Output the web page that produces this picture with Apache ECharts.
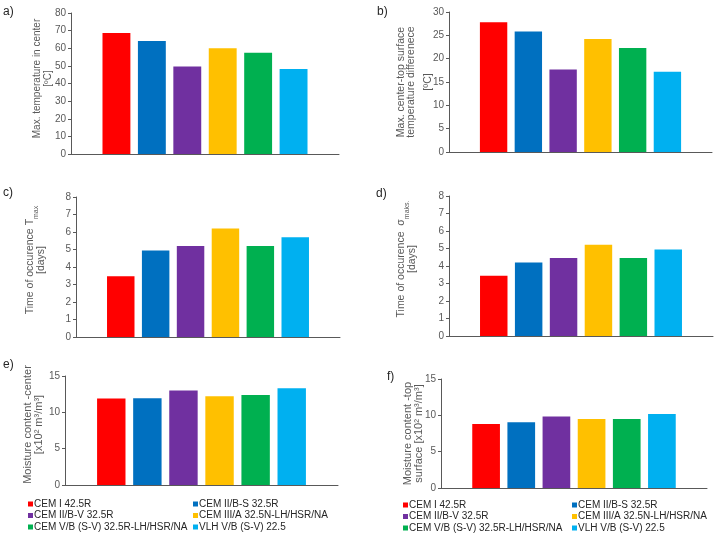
<!DOCTYPE html>
<html><head><meta charset="utf-8">
<script src="https://cdn.jsdelivr.net/npm/echarts@6/dist/echarts.min.js"></script>
<style>html,body{margin:0;padding:0;background:#fff}#c{width:720px;height:540px}</style>
</head><body><div id="c"></div><script>
// ---- data ----
const seriesNames = ['CEM I 42.5R', 'CEM II/B-S 32.5R', 'CEM II/B-V 32.5R', 'CEM III/A 32.5N-LH/HSR/NA', 'CEM V/B (S-V) 32.5R-LH/HSR/NA', 'VLH V/B (S-V) 22.5'];
const maxTempCenter = [68.6, 64.1, 49.7, 60.0, 57.5, 48.2];
const maxTempDiff = [27.8, 25.8, 17.7, 24.2, 22.3, 17.2];
const timeTmax = [3.47, 4.95, 5.2, 6.2, 5.2, 5.7];
const timeSigma = [3.45, 4.2, 4.46, 5.22, 4.46, 4.95];
const moistureCenter = [11.9, 11.95, 13.0, 12.2, 12.4, 13.3];
const moistureTop = [8.8, 9.05, 9.85, 9.5, 9.5, 10.2];
const yMax = [80, 30, 8, 8, 15, 15];
const yInterval = [10, 5, 1, 1, 5, 5];
const panelLabels = ['a)', 'b)', 'c)', 'd)', 'e)', 'f)'];
const axisTitles = [
  '{t|Max. temperature in center}\n{t|[ºC]}',
  '{t|Max. center-top surface}\n{t|temperature differenece}\n{u|[ºC]}',
  '{t|Time of occurence T}{s|max}\n{t|[days]}',
  '{t|Time of occurence  σ}{s|maks.}\n{t|[days]}',
  '{t|Moisture content -center}\n{t|[x10² m³/m³]}',
  '{t|Moisture content -top}\n{t|surface [x10² m³/m³]}'
];
const panelData = [maxTempCenter, maxTempDiff, timeTmax, timeSigma, moistureCenter, moistureTop];

// ---- styling / layout ----
const colors = ['#FF0000', '#0070C0', '#7030A0', '#FFC000', '#00B050', '#00B0F0'];
const FONT = 'Liberation Sans, Arial, sans-serif';
const AX = '#595959';
const grids = [
  {left: 71, top: 13, width: 268, height: 141},
  {left: 449, top: 12, width: 263, height: 140},
  {left: 76, top: 197, width: 264, height: 140},
  {left: 449, top: 196, width: 264, height: 140},
  {left: 65, top: 376, width: 273, height: 109},
  {left: 441, top: 379, width: 266, height: 109}
];
const titleFont = [10, 10.5, 10.5, 10.5, 11, 11];
const nameGaps = [18, 9, 30, 32, 21, 17];
const namePad = [[0,0,0,10],[0,0,0,0],[0,0,0,14],[0,0,0,14],[0,0,0,12],[0,0,0,0]];
const labelPos = [[3,6],[377,6],[3,187],[376,188],[3,359],[387,371]];

const xAxes = [], yAxes = [], series = [], titles = [];
for (let p = 0; p < 6; p++) {
  xAxes.push({
    gridIndex: p, type: 'category', data: [''],
    axisLine: {show: true, lineStyle: {color: AX, width: 1}},
    axisTick: {show: false}, axisLabel: {show: false}, splitLine: {show: false}
  });
  const fs = titleFont[p];
  yAxes.push({
    gridIndex: p, type: 'value', min: 0, max: yMax[p], interval: yInterval[p],
    axisLine: {show: true, lineStyle: {color: AX, width: 1}},
    axisTick: {show: true, length: 3, lineStyle: {color: AX}},
    splitLine: {show: false},
    axisLabel: {fontSize: 10, color: AX, fontFamily: FONT, margin: 5},
    name: axisTitles[p], nameLocation: 'middle', nameRotate: 90, nameGap: nameGaps[p],
    nameMoveOverlap: false,
    nameTextStyle: {
      color: AX, fontFamily: FONT, fontSize: fs, padding: namePad[p],
      rich: {
        t: {fontSize: fs, lineHeight: 10.5, color: AX, fontFamily: FONT},
        s: {fontSize: 7, lineHeight: 10.5, color: AX, fontFamily: FONT, padding: [11, 0, 0, 0]},
        u: {fontSize: fs, lineHeight: 23.5, color: AX, fontFamily: FONT}
      }
    }
  });
  for (let i = 0; i < 6; i++) {
    series.push({
      type: 'bar', name: seriesNames[i], xAxisIndex: p, yAxisIndex: p,
      data: [panelData[p][i]], itemStyle: {color: colors[i]},
      barGap: '27%', barCategoryGap: '23.5%'
    });
  }
  titles.push({text: panelLabels[p], left: labelPos[p][0], top: labelPos[p][1], padding: 0,
    textStyle: {fontSize: 12, fontWeight: 'normal', color: '#262626', fontFamily: FONT}});
}

function legendCol(names, left, top) {
  return {
    data: names, left: left, top: top, orient: 'vertical', padding: 0,
    itemWidth: 5, itemHeight: 5, itemGap: 1.5, icon: 'rect', selectedMode: false,
    textStyle: {fontSize: 10, color: '#262626', fontFamily: FONT, padding: [0, 0, 0, -4]}
  };
}
const legends = [
  legendCol([seriesNames[0], seriesNames[2], seriesNames[4]], 28, 499),
  legendCol([seriesNames[1], seriesNames[3], seriesNames[5]], 193, 499),
  legendCol([seriesNames[0], seriesNames[2], seriesNames[4]], 403, 500),
  legendCol([seriesNames[1], seriesNames[3], seriesNames[5]], 572, 500)
];

const chart = echarts.init(document.getElementById('c'), null, {renderer: 'canvas'});
chart.setOption({
  animation: false,
  backgroundColor: '#ffffff',
  title: titles,
  legend: legends,
  grid: grids,
  xAxis: xAxes,
  yAxis: yAxes,
  series: series
});
</script></body></html>
